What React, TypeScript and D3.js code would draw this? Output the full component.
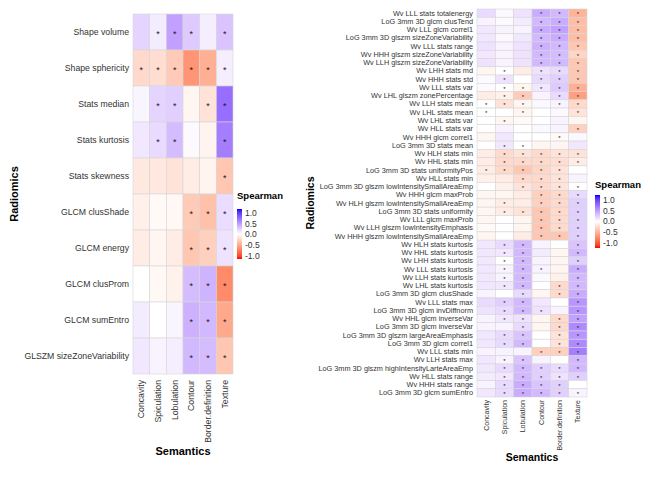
import React from 'react';
import * as d3 from 'd3';

const semantics = ['Concavity', 'Spiculation', 'Lobulation', 'Contour', 'Border.definition', 'Texture'];

const leftRows = [
  'Shape volume', 'Shape sphericity', 'Stats median', 'Stats kurtosis', 'Stats skewness',
  'GLCM clusShade', 'GLCM energy', 'GLCM clusProm', 'GLCM sumEntro', 'GLSZM sizeZoneVariability',
];

const leftValues = [
  [0.18, 0.08, 0.4, 0.22, 0.07, 0.25],
  [-0.2, -0.18, -0.28, -0.55, -0.42, 0.07],
  [0.04, 0.18, 0.2, -0.05, -0.15, 0.62],
  [0.1, 0.15, 0.28, 0.02, -0.06, 0.55],
  [-0.12, -0.12, -0.15, -0.1, -0.06, -0.3],
  [-0.08, -0.03, -0.04, -0.28, -0.33, 0.14],
  [-0.1, -0.05, -0.1, -0.3, -0.25, 0.12],
  [0.0, -0.04, -0.07, 0.28, 0.32, -0.6],
  [0.08, 0.0, 0.04, 0.33, 0.3, -0.45],
  [0.1, 0.05, 0.07, 0.3, 0.28, -0.3],
];

// 1 = significant (star)
const leftSig = [
  '011101', '111111', '011011', '011001', '000001',
  '000111', '000111', '000111', '000111', '000111',
];

const rightRows = [
  'Wv LLL stats totalenergy', 'LoG 3mm 3D glcm clusTend', 'Wv LLL glcm correl1',
  'LoG 3mm 3D glszm sizeZoneVariability', 'Wv LLL stats range', 'Wv HHH glszm sizeZoneVariability',
  'Wv LLH glszm sizeZoneVariability', 'Wv LHH stats md', 'Wv HHH stats std', 'Wv LLL stats var',
  'Wv LHL glszm zonePercentage', 'Wv LLH stats mean', 'Wv LHL stats mean', 'Wv LHL stats var',
  'Wv HLL stats var', 'Wv HHH glcm correl1', 'LoG 3mm 3D stats mean', 'Wv HLH stats min',
  'Wv HHL stats min', 'LoG 3mm 3D stats uniformityPos', 'Wv HLL stats min',
  'LoG 3mm 3D glszm lowIntensitySmallAreaEmp', 'Wv HHH glcm maxProb',
  'Wv HLH glszm lowIntensitySmallAreaEmp', 'LoG 3mm 3D stats uniformity', 'Wv LLL glcm maxProb',
  'Wv LLH glszm lowIntensityEmphasis', 'Wv HHH glszm lowIntensitySmallAreaEmp',
  'Wv HLH stats kurtosis', 'Wv HHL stats kurtosis', 'Wv LHH stats kurtosis', 'Wv LLL stats kurtosis',
  'Wv LLH stats kurtosis', 'Wv LHL stats kurtosis', 'LoG 3mm 3D glcm clusShade', 'Wv LLL stats max',
  'LoG 3mm 3D glcm invDiffnorm', 'Wv HHL glcm inverseVar', 'LoG 3mm 3D glcm inverseVar',
  'LoG 3mm 3D glszm largeAreaEmphasis', 'LoG 3mm 3D glcm correl1', 'Wv LLL stats min',
  'Wv LLH stats max', 'LoG 3mm 3D glszm highIntensityLarteAreaEmp', 'Wv HLL stats range',
  'Wv HHH stats range', 'LoG 3mm 3D glcm sumEntro',
];

const rightValues = [
  [0.15, 0.03, 0.12, 0.35, 0.3, -0.4],
  [0.05, 0.02, 0.08, 0.3, 0.35, -0.35],
  [0.1, 0.05, 0.05, 0.35, 0.4, -0.35],
  [0.1, 0.03, 0.1, 0.3, 0.35, -0.35],
  [0.12, 0.05, 0.12, 0.33, 0.3, -0.3],
  [0.1, 0.05, 0.12, 0.3, 0.28, -0.22],
  [0.12, 0.05, 0.12, 0.3, 0.3, -0.3],
  [-0.05, 0.0, -0.1, 0.12, 0.15, -0.3],
  [0.02, 0.12, 0.0, 0.15, 0.2, -0.3],
  [0.02, 0.0, -0.05, 0.1, 0.22, -0.42],
  [-0.1, -0.08, -0.28, 0.05, 0.15, -0.5],
  [0.0, -0.15, -0.05, 0.03, 0.05, -0.2],
  [0.0, 0.0, -0.05, 0.0, 0.03, -0.15],
  [0.0, -0.05, -0.03, 0.0, 0.05, -0.05],
  [0.0, 0.05, 0.0, 0.03, 0.05, -0.25],
  [-0.05, 0.1, 0.0, 0.0, -0.03, 0.03],
  [0.0, 0.1, 0.0, -0.05, -0.05, 0.1],
  [-0.1, -0.2, -0.15, -0.2, -0.15, -0.15],
  [-0.1, -0.2, -0.2, -0.2, -0.18, -0.1],
  [-0.1, -0.2, -0.3, -0.22, -0.15, 0.0],
  [-0.08, -0.1, -0.2, -0.2, -0.15, 0.05],
  [0.0, -0.08, -0.15, -0.2, -0.15, 0.0],
  [-0.05, -0.05, -0.1, -0.25, -0.2, 0.15],
  [-0.05, -0.1, -0.1, -0.25, -0.2, 0.2],
  [-0.05, -0.1, -0.15, -0.3, -0.2, 0.2],
  [-0.05, 0.0, -0.05, -0.3, -0.2, 0.2],
  [-0.03, 0.0, -0.05, -0.3, -0.2, 0.2],
  [-0.05, 0.0, -0.1, -0.3, -0.3, 0.2],
  [0.1, 0.15, 0.3, 0.05, 0.0, 0.25],
  [0.1, 0.1, 0.3, 0.08, -0.05, 0.3],
  [0.1, 0.0, 0.3, 0.05, -0.05, 0.2],
  [0.1, 0.05, 0.3, 0.05, -0.05, 0.35],
  [0.1, 0.05, 0.3, 0.03, -0.08, 0.3],
  [0.1, 0.1, 0.3, 0.0, -0.2, 0.3],
  [0.05, 0.0, 0.15, -0.05, -0.2, 0.35],
  [0.15, 0.2, 0.3, 0.1, 0.0, 0.45],
  [0.12, 0.15, 0.3, 0.12, 0.05, 0.45],
  [0.05, 0.1, 0.12, -0.05, -0.2, 0.4],
  [0.05, 0.05, 0.15, -0.05, -0.2, 0.5],
  [0.1, 0.15, 0.25, 0.0, -0.15, 0.45],
  [0.1, 0.15, 0.3, 0.0, -0.15, 0.5],
  [0.05, 0.05, 0.05, -0.25, -0.25, 0.55],
  [0.1, 0.05, 0.25, 0.05, 0.0, 0.3],
  [0.1, 0.15, 0.3, 0.2, 0.15, 0.3],
  [0.08, 0.1, 0.3, 0.2, 0.12, 0.2],
  [0.05, 0.15, 0.35, 0.25, 0.2, 0.0],
  [0.1, 0.15, 0.35, 0.3, 0.2, 0.05],
];

const rightSig = [
  '000111', '000111', '000111', '000111', '000111', '000111', '000111', '010111', '010111',
  '011111', '011011', '111011', '101001', '010000', '000001', '000010', '011000', '011111',
  '011111', '111110', '001110', '001111', '000111', '010111', '011111', '000111', '000111',
  '000111', '011001', '011001', '011001', '011101', '011001', '011011', '001011', '011001',
  '011101', '011011', '001011', '011011', '011011', '000111', '011001', '011111', '011111',
  '011110', '011111',
];

const legendTicks = [1, 0.5, 0, -0.5, -1];

const FONT = '"Liberation Sans", Arial, sans-serif';

const color = d3.scaleLinear<string>()
  .domain([-1, 0, 1])
  .range(['#ff0000', '#ffffff', '#0000ff'])
  .interpolate(d3.interpolateLab);

interface HeatmapProps {
  id: string;
  rows: string[];
  values: number[][];
  sig: string[];
  x0: number; y0: number; w: number; h: number;
  rowFont: number; colFont: number; starFont: number;
  colGap: number;
  yTitleX: number;
  xTitleY: number;
  titleFont: number;
  legend: { x: number; titleY: number; barTop: number; barBottom: number; tickTop: number; tickBottom: number };
}

const Heatmap: React.FC<HeatmapProps> = (p) => {
  const x = d3.scaleBand().domain(semantics).range([p.x0, p.x0 + p.w]);
  const y = d3.scaleBand().domain(p.rows).range([p.y0, p.y0 + p.h]);
  const ly = d3.scaleLinear().domain([-1, 1]).range([p.legend.tickBottom, p.legend.tickTop]);
  const gradStops = d3.range(0, 1.0001, 0.05);

  return (
    <g fontFamily={FONT}>
      <defs>
        <linearGradient id={`grad-${p.id}`} x1="0" y1="0" x2="0" y2="1">
          {gradStops.map((t) => (
            <stop key={t} offset={`${t * 100}%`} stopColor={color(1 - 2 * t)} />
          ))}
        </linearGradient>
      </defs>

      {/* cells */}
      {p.rows.map((r, i) => semantics.map((c, j) => (
        <rect
          key={`${r}-${c}`}
          x={x(c)}
          y={y(r)}
          width={x.bandwidth()}
          height={y.bandwidth()}
          fill={color(p.values[i][j])}
          stroke="#d6d6d6"
          strokeWidth={0.6}
        />
      )))}

      {/* stars */}
      {p.rows.map((r, i) => semantics.map((c, j) => p.sig[i][j] === '1' ? (
        <text
          key={`s-${r}-${c}`}
          x={(x(c) ?? 0) + x.bandwidth() / 2}
          y={(y(r) ?? 0) + y.bandwidth() / 2 + p.starFont * 0.55}
          fontSize={p.starFont}
          textAnchor="middle"
          fill="#1a1a1a"
        >*</text>
      ) : null))}

      {/* row labels */}
      {p.rows.map((r) => (
        <text
          key={`l-${r}`}
          x={p.x0 - 4}
          y={(y(r) ?? 0) + y.bandwidth() / 2}
          dy="0.35em"
          fontSize={p.rowFont}
          textAnchor="end"
          fill="#333"
        >{r}</text>
      ))}

      {/* column labels */}
      {semantics.map((c) => {
        const cx = (x(c) ?? 0) + x.bandwidth() / 2;
        const ty = p.y0 + p.h + p.colGap;
        return (
          <text
            key={`c-${c}`}
            transform={`translate(${cx},${ty}) rotate(-90)`}
            dy="0.35em"
            fontSize={p.colFont}
            textAnchor="end"
            fill="#333"
          >{c}</text>
        );
      })}

      {/* axis titles */}
      <text
        transform={`translate(${p.yTitleX},${p.y0 + p.h / 2}) rotate(-90)`}
        textAnchor="middle"
        fontSize={p.titleFont}
        fontWeight="bold"
        fill="#000"
      >Radiomics</text>
      <text
        x={p.x0 + p.w / 2}
        y={p.xTitleY}
        textAnchor="middle"
        fontSize={p.titleFont}
        fontWeight="bold"
        fill="#000"
      >Semantics</text>

      {/* legend */}
      <text x={p.legend.x} y={p.legend.titleY} fontSize={9.5} fontWeight="bold" fill="#000">Spearman</text>
      <rect
        x={p.legend.x}
        y={p.legend.barTop}
        width={5}
        height={p.legend.barBottom - p.legend.barTop}
        fill={`url(#grad-${p.id})`}
      />
      {legendTicks.map((t) => (
        <text
          key={`t-${t}`}
          x={p.legend.x + 8}
          y={ly(t)}
          dy="0.35em"
          fontSize={8.5}
          fill="#333"
        >{t.toFixed(1)}</text>
      ))}
    </g>
  );
};

export default function App() {
  return (
    <svg width={653} height={477} style={{ display: 'block', position: 'absolute', left: 0, top: 0, background: '#fff' }}>
      <Heatmap
        id="left"
        rows={leftRows}
        values={leftValues}
        sig={leftSig}
        x0={133} y0={14} w={100} h={360}
        rowFont={8.7} colFont={8.7} starFont={9}
        colGap={6}
        yTitleX={18}
        xTitleY={455}
        titleFont={11}
        legend={{ x: 237, titleY: 199, barTop: 209, barBottom: 259, tickTop: 213, tickBottom: 256 }}
      />
      <Heatmap
        id="right"
        rows={rightRows}
        values={rightValues}
        sig={rightSig}
        x0={477} y0={9} w={110} h={388}
        rowFont={7.3} colFont={7} starFont={6}
        colGap={3}
        yTitleX={314}
        xTitleY={461}
        titleFont={10.5}
        legend={{ x: 595, titleY: 188, barTop: 195, barBottom: 248, tickTop: 200, tickBottom: 243 }}
      />
    </svg>
  );
}
